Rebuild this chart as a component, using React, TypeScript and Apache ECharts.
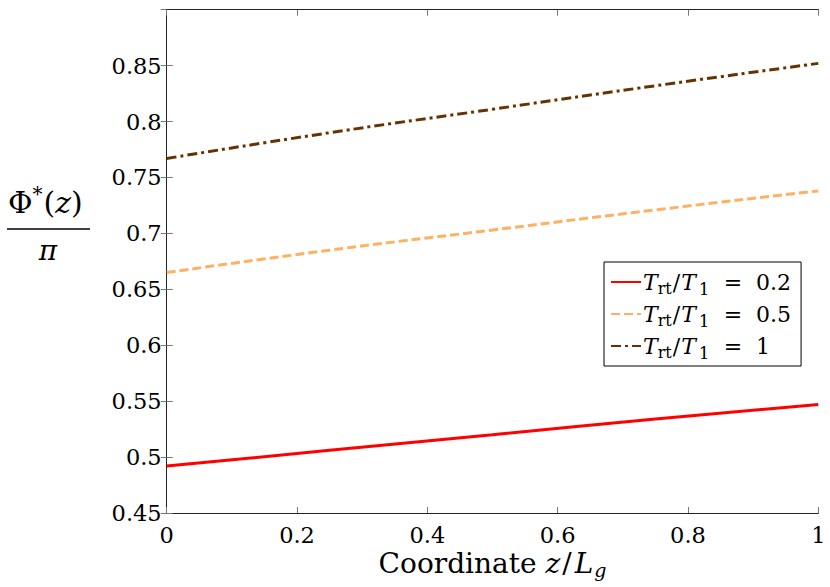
import React, { useEffect, useRef } from "react";
import * as echarts from "echarts";

// Data
const zValues = [0, 0.25, 0.5, 0.75, 1];
const phiRatio02 = [0.492, 0.506, 0.52, 0.534, 0.547];
const phiRatio05 = [0.665, 0.685, 0.703, 0.721, 0.738];
const phiRatio1 = [0.767, 0.79, 0.811, 0.832, 0.852];
const ratioLabels = ["0.2", "0.5", "1"];
const seriesNames = ["Trt/T1 = 0.2", "Trt/T1 = 0.5", "Trt/T1 = 1"];
const seriesColors = ["#ff0000", "#ffb163", "#663300"];

const SERIF = "DejaVu Serif";

export default function App() {
  const ref = useRef<HTMLDivElement>(null);
  useEffect(() => {
    document.body.style.margin = "0";
    if (!ref.current) return;
    const chart = echarts.init(ref.current, undefined, { renderer: "svg" });
    const seriesData = [phiRatio02, phiRatio05, phiRatio1];
    const lineTypes: any[] = ["solid", [9, 4], [10, 4, 3, 4]];
    const LH = 32;
    const NLH = 24;
    const legendRich = {
      n: { fontFamily: SERIF, fontSize: 22, lineHeight: LH, color: "#000" },
      sl: { fontFamily: SERIF, fontSize: 22, lineHeight: LH, color: "#000", padding: [0, 1, 0, 1] },
      eq: { fontFamily: SERIF, fontSize: 22, lineHeight: LH, color: "#000", padding: [0, 14, 0, 13] },
      i: { fontFamily: SERIF, fontSize: 22, fontStyle: "italic", lineHeight: LH, color: "#000" },
      sub: { fontFamily: SERIF, fontSize: 16, lineHeight: LH, padding: [13, 0, 0, 0], color: "#000" },
      sub1: { fontFamily: SERIF, fontSize: 17, lineHeight: LH, padding: [13, 1, 0, 3], color: "#000" },
    };
    const nameRich = {
      n: { fontFamily: SERIF, fontSize: 28, lineHeight: NLH, color: "#000" },
      i: { fontFamily: SERIF, fontSize: 28, fontStyle: "italic", lineHeight: NLH, color: "#000" },
      sl: { fontFamily: SERIF, fontSize: 28, lineHeight: NLH, color: "#000", padding: [0, 3, 0, 2] },
      subi: { fontFamily: SERIF, fontSize: 19, fontStyle: "italic", lineHeight: NLH, padding: [13, 0, 0, 1], color: "#000" },
    };
    const axisCommon = {
      type: "value" as const,
      axisLine: { show: true, lineStyle: { color: "#222", width: 1 } },
      axisTick: { show: true, inside: true, length: 6, lineStyle: { color: "#777" } },
      splitLine: { show: false },
    };
    chart.setOption({
      animation: false,
      grid: { left: 166.7, right: 11.7, top: 9.7, bottom: 74, containLabel: false, outerBoundsMode: "none" },
      xAxis: [
        {
          ...axisCommon,
          min: 0,
          max: 1,
          interval: 0.2,
          axisLabel: {
            fontFamily: SERIF,
            fontSize: 22.5,
            lineHeight: 20,
            color: "#000",
            margin: 12,
            formatter: (v: number) => String(Number(v.toFixed(2))),
          },
          name: "{n|Coordinate }{i|z}{sl|/}{i|L}{subi|g}",
          nameLocation: "middle",
          nameGap: 38,
          nameMoveOverlap: false,
          nameTextStyle: {
            fontFamily: SERIF,
            fontSize: 28,
            color: "#000",
            lineHeight: NLH,
            rich: nameRich,
          },
        },
        {
          ...axisCommon,
          position: "top",
          min: 0,
          max: 1,
          interval: 0.2,
          axisLabel: { show: false },
        },
      ],
      yAxis: [
        {
          ...axisCommon,
          min: 0.45,
          max: 0.9,
          interval: 0.05,
          axisLabel: {
            fontFamily: SERIF,
            fontSize: 22.5,
            color: "#000",
            margin: 5,
            showMaxLabel: false,
            formatter: (v: number) => String(Number(v.toFixed(2))),
          },
        },
        {
          ...axisCommon,
          position: "right",
          min: 0.45,
          max: 0.9,
          interval: 0.05,
          axisLabel: { show: false },
        },
      ],
      legend: {
        orient: "vertical",
        left: 604,
        top: 262,
        padding: [5, 10, 5, 6],
        itemGap: 2,
        itemWidth: 30,
        itemHeight: 14,
        borderColor: "#000",
        borderWidth: 1,
        borderRadius: 0,
        backgroundColor: "#fff",
        itemStyle: { color: "transparent", borderWidth: 0, opacity: 0 },
        data: seriesNames,
        formatter: (name: string) => {
          const idx = seriesNames.indexOf(name);
          return `{i|T}{sub|rt}{sl|/}{i|T}{sub1|1}{eq|=}{n|${ratioLabels[idx]}}`;
        },
        textStyle: {
          fontFamily: SERIF,
          fontSize: 22,
          padding: [0, 0, 0, -3],
          rich: legendRich,
        },
      },
      graphic: [
        {
          type: "text",
          left: 8,
          top: 184,
          style: {
            text: "{n|Φ}{sup|*}{n|(}{i|z}{n|)}",
            rich: {
              n: { fontFamily: SERIF, fontSize: 30, lineHeight: 36, fill: "#000" },
              i: { fontFamily: SERIF, fontSize: 30, fontStyle: "italic", lineHeight: 36, fill: "#000" },
              sup: { fontFamily: SERIF, fontSize: 20, lineHeight: 36, padding: [0, 1, 16, 0], fill: "#000" },
            },
          },
        },
        {
          type: "line",
          shape: { x1: 7, y1: 229, x2: 90, y2: 229 },
          style: { stroke: "#000", lineWidth: 1.4 },
        },
        {
          type: "text",
          x: 48,
          y: 250,
          style: {
            text: "π",
            fontFamily: SERIF,
            fontSize: 28,
            fontStyle: "italic",
            fill: "#000",
            align: "center",
            verticalAlign: "middle",
          },
        },
      ],
      series: seriesNames.map((name, si) => ({
        name,
        type: "line",
        xAxisIndex: 0,
        yAxisIndex: 0,
        data: zValues.map((z, i) => [z, seriesData[si][i]]),
        showSymbol: false,
        symbol: "none",
        smooth: true,
        lineStyle: { color: seriesColors[si], width: 3, type: lineTypes[si] },
        itemStyle: { color: seriesColors[si] },
      })),
    });
    return () => chart.dispose();
  }, []);
  return <div ref={ref} style={{ width: 830, height: 587 }} />;
}
